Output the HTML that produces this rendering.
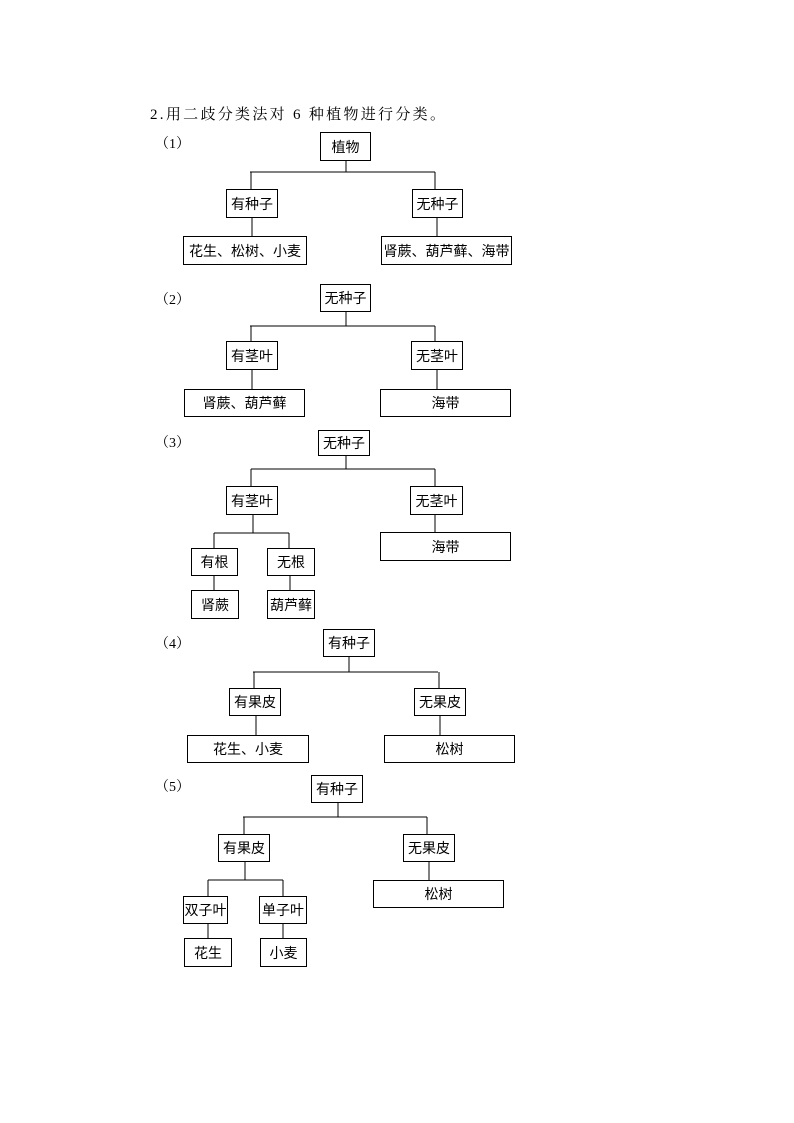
<!DOCTYPE html>
<html><head><meta charset="utf-8"><style>
body{margin:0;background:#fff;}
#p{position:relative;width:794px;height:1123px;font-family:"Liberation Serif","Noto Serif CJK SC","Noto Sans CJK SC",serif;color:#000;}
.b{position:absolute;border:1px solid #000;box-sizing:border-box;display:flex;align-items:center;justify-content:center;font-family:"Noto Sans CJK SC","WenQuanYi Zen Hei",sans-serif;font-size:14px;background:#fff;white-space:nowrap;}
.t{position:absolute;font-size:14px;white-space:nowrap;}
svg{position:absolute;left:0;top:0;}
</style></head><body><div id="p">
<svg width="794" height="1123"><g stroke="#000" stroke-width="1" fill="none">
<path d="M346 160V172M250 172H435M251 172V189M435 172V189M252 218V236M437 218V236"/>
<path d="M346 312V326M250 326H435M251 326V341M435 326V341M252 370V389M437 370V389"/>
<path d="M346 455V469M251 469H435M251 469V486M435 469V486M253 515V533M214 533H289M214 533V548M289 533V548M214 576V590M290 576V590M435 515V532"/>
<path d="M349 657V672M253 672H438M254 672V688M439 672V688M256 716V735M440 716V735"/>
<path d="M338 803V817M243 817H427M244 817V834M427 817V834M245 862V880M208 880H283M208 880V896M283 880V896M208 924V938M283 924V938M429 862V880"/>
</g></svg>
<div class="t" style="left:150px;top:103px;font-size:15px;letter-spacing:2.3px;">2.用二歧分类法对 6 种植物进行分类。</div>
<div class="t" style="left:155px;top:133px;">（1）</div>
<div class="b" style="left:320px;top:132px;width:51px;height:29px;">植物</div>
<div class="b" style="left:226px;top:189px;width:52px;height:29px;">有种子</div>
<div class="b" style="left:412px;top:189px;width:51px;height:29px;">无种子</div>
<div class="b" style="left:183px;top:236px;width:124px;height:29px;">花生、松树、小麦</div>
<div class="b" style="left:381px;top:236px;width:131px;height:29px;">肾蕨、葫芦藓、海带</div>

<div class="t" style="left:155px;top:289px;">（2）</div>
<div class="b" style="left:320px;top:284px;width:51px;height:28px;">无种子</div>
<div class="b" style="left:226px;top:341px;width:52px;height:29px;">有茎叶</div>
<div class="b" style="left:411px;top:341px;width:52px;height:29px;">无茎叶</div>
<div class="b" style="left:184px;top:389px;width:121px;height:28px;">肾蕨、葫芦藓</div>
<div class="b" style="left:380px;top:389px;width:131px;height:28px;">海带</div>

<div class="t" style="left:155px;top:432px;">（3）</div>
<div class="b" style="left:318px;top:430px;width:52px;height:26px;">无种子</div>
<div class="b" style="left:226px;top:486px;width:52px;height:29px;">有茎叶</div>
<div class="b" style="left:410px;top:486px;width:53px;height:29px;">无茎叶</div>
<div class="b" style="left:191px;top:548px;width:47px;height:28px;">有根</div>
<div class="b" style="left:267px;top:548px;width:48px;height:28px;">无根</div>
<div class="b" style="left:191px;top:590px;width:48px;height:29px;">肾蕨</div>
<div class="b" style="left:267px;top:590px;width:48px;height:29px;">葫芦藓</div>
<div class="b" style="left:380px;top:532px;width:131px;height:29px;">海带</div>

<div class="t" style="left:155px;top:633px;">（4）</div>
<div class="b" style="left:323px;top:629px;width:52px;height:28px;">有种子</div>
<div class="b" style="left:229px;top:688px;width:52px;height:28px;">有果皮</div>
<div class="b" style="left:414px;top:688px;width:52px;height:28px;">无果皮</div>
<div class="b" style="left:187px;top:735px;width:122px;height:28px;">花生、小麦</div>
<div class="b" style="left:384px;top:735px;width:131px;height:28px;">松树</div>

<div class="t" style="left:155px;top:776px;">（5）</div>
<div class="b" style="left:311px;top:775px;width:52px;height:28px;">有种子</div>
<div class="b" style="left:218px;top:834px;width:52px;height:28px;">有果皮</div>
<div class="b" style="left:403px;top:834px;width:52px;height:28px;">无果皮</div>
<div class="b" style="left:183px;top:896px;width:45px;height:28px;">双子叶</div>
<div class="b" style="left:259px;top:896px;width:48px;height:28px;">单子叶</div>
<div class="b" style="left:184px;top:938px;width:48px;height:29px;">花生</div>
<div class="b" style="left:260px;top:938px;width:47px;height:29px;">小麦</div>
<div class="b" style="left:373px;top:880px;width:131px;height:28px;">松树</div>
</div></body></html>
